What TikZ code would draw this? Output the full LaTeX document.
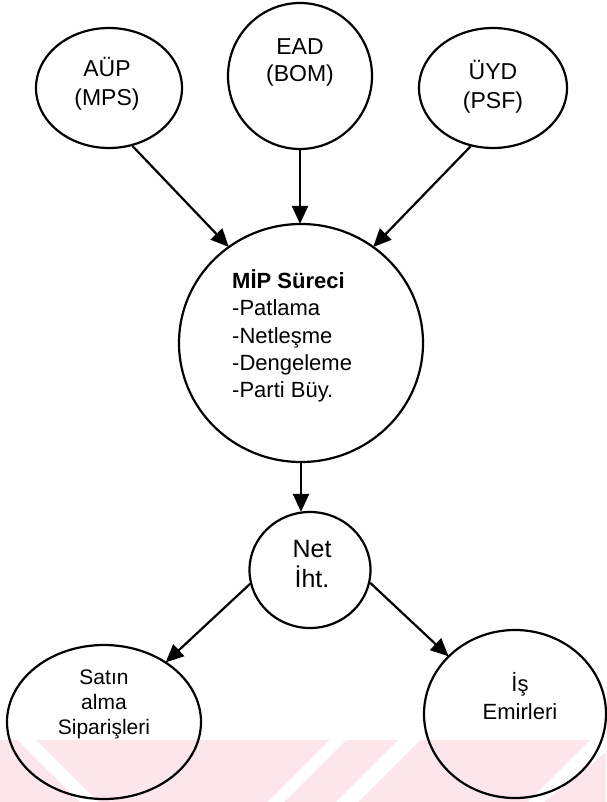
\documentclass[tikz,border=0pt]{standalone}
\usepackage{fontspec}
\setmainfont{Liberation Sans}
\usetikzlibrary{shapes.geometric,arrows.meta}
\definecolor{wmpink}{RGB}{252,230,234}
\tikzset{
  bubble/.style={draw=black, line width=2.2pt, ellipse, inner sep=0pt},
  txt/.style={align=center, inner sep=0pt},
  flow/.style={draw=black, line width=2.2pt, -{Triangle[length=18pt,width=16pt]}, shorten >=-1pt}
}
\begin{document}
\begin{tikzpicture}[x=1pt,y=-1pt]
\useasboundingbox (0,0) rectangle (606,802);
% faint watermark band
\fill[wmpink] (0,740) rectangle (606,802);
\fill[white] (18,740) -- (36,740) -- (98,802) -- (80,802) -- cycle;
\fill[white] (330,740) -- (346,740) -- (284,802) -- (268,802) -- cycle;
\fill[white] (398,740) -- (420,740) -- (358,802) -- (336,802) -- cycle;
\fill[white] (590,740) -- (606,740) -- (606,752) -- (544,802) -- (528,802) -- cycle;
% bubbles
\node[bubble, minimum width=146pt, minimum height=120pt] (aup) at (109,88) {};
\node[bubble, minimum width=144pt, minimum height=146pt] (ead) at (300,76) {};
\node[bubble, minimum width=148pt, minimum height=120pt] (uyd) at (493,88) {};
\node[bubble, minimum width=244pt, minimum height=238pt] (mip) at (301,343) {};
\node[bubble, minimum width=121pt, minimum height=116pt] (net) at (310,570) {};
\node[bubble, minimum width=194pt, minimum height=154pt] (sat) at (104,722) {};
\node[bubble, minimum width=182pt, minimum height=168pt] (is) at (515,714) {};
% texts
\node[txt, font=\fontsize{23}{29}\selectfont] (aupT) at (107,84) {AÜP\\(MPS)};
\node[txt, font=\fontsize{23}{27}\selectfont] (eadT) at (300,62) {EAD\\(BOM)};
\node[txt, font=\fontsize{23}{29}\selectfont] (uydT) at (493,87) {ÜYD\\(PSF)};
\node[txt, align=left, anchor=west, font=\fontsize{22}{27.2}\selectfont] (mipT) at (232,336)
  {\textbf{MİP Süreci}\\-Patlama\\-Netleşme\\-Dengeleme\\-Parti Büy.};
\node[txt, font=\fontsize{25}{30}\selectfont] (netT) at (312,564) {Net\\İht.};
\node[txt, font=\fontsize{21}{25}\selectfont] (satT) at (104,704) {Satın\\alma\\Siparişleri};
\node[txt, font=\fontsize{22}{28}\selectfont] (isT) at (520,696) {İş\\Emirleri};
% connectors
\draw[flow] (aup.-68) -- (mip.127);
\draw[flow] (ead.south) -- (ead.south |- mip.north);
\draw[flow] (uyd.-111) -- (mip.53);
\draw[flow] (mip.south) -- (mip.south |- net.north);
\draw[flow] (net.193) -- (sat.44);
\draw[flow] (net.-12) -- (is.139);
\end{tikzpicture}
\end{document}
